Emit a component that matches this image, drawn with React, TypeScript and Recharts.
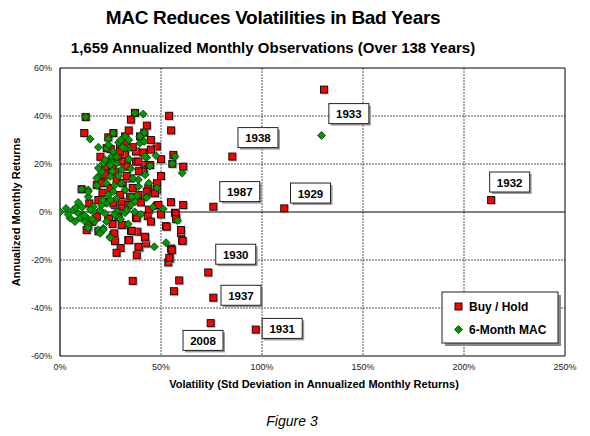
import React from 'react';
import { ScatterChart, Scatter, XAxis, YAxis, CartesianGrid, ReferenceLine } from 'recharts';

// Axis ticks (percent)
const xTicks = [0, 50, 100, 150, 200, 250];
const yTicks = [-60, -40, -20, 0, 20, 40, 60];

// Volatility (%), annualized return (%) per year — Buy / Hold
const buyHold: [number, number][] = [
  [130.7, 51], [85.3, 23.1], [75.9, 2.2], [111, 1.5], [213.4, 5], [73.4, -25.2], [59, -28.5],
  [56.4, -33], [75.9, -35.7], [74.6, -46.3], [96.9, -49], [36, -28.7], [53.6, -21], [54.5, -19.4],
  [55.3, -15.6], [38, -18], [39.3, -14.8], [42.6, -13.1], [42, -10.6], [33.8, -11.7], [26.4, -9.6],
  [27.2, -12.1], [60.5, -12], [59.9, -8.7], [12.7, 39.6], [37.1, 41.3], [35.1, 38.5], [54, 40.1],
  [55, 34], [12, 32.9], [26.4, 32.9], [23.9, 31.1], [32.2, 31.5], [41.7, 33.1], [39.6, 31.5],
  [23.1, 26.6], [25.1, 26.2], [29.7, 27.6], [32.7, 28.7], [47.9, 27.3], [37.6, 25.2], [41.2, 24.8],
  [29.7, 24.5], [56.1, 23.8], [61, 18.9], [55.6, 20.1], [37.6, 21], [33, 21.7], [28, 21.7],
  [41.7, 19.6], [41.6, 17.6], [22.3, 17.6], [18.2, 11.3], [10.7, 9.5], [43.7, 9.9], [47.9, 9.2],
  [34.7, 6.4], [29.7, 5], [27.2, 2.9], [47.9, 2.6], [54.9, 4.1], [61, 2.9], [56.9, -0.3],
  [57.4, -2], [23.9, -2.7], [37.6, -2.4], [43.4, -1.7], [31, -5.4], [14, -6.1], [26.9, -8.9],
  [35.1, -7.8], [38.3, -8.2], [42.1, -10.3], [52.5, -5.9], [55, -15.2], [60.7, -12], [13.2, -7.5],
  [14.5, 3.6], [18.2, -2], [24.3, -2.9], [28.9, -2], [30.5, -5.4], [31.3, 2.2], [30.5, 4.3],
  [26.4, 3.6], [19, 5], [22.3, 4.3], [29.7, 7.1], [28, 13.4], [22.3, 15.5], [27.2, 16.8],
  [33, 18.9], [22.3, 18.9], [30.5, 21], [28.9, 23.1], [32.2, 23.8], [29.7, 25.2], [38.8, 21],
  [44.6, 19.6], [41.2, 16.8], [42.9, 8.5], [38.8, 7.1], [47, 7.8], [33.8, 2.9], [48.7, 2.9],
  [57.3, -0.6], [57.5, -3], [38, -2.4], [52.8, -6.1], [59.9, -7.5], [35.5, -7.9], [34.2, -11.7],
  [38.8, -14.5], [55.3, -15.9], [54.1, -19.1], [20.6, 12], [25, 10], [35, 14], [31, 12],
  [36, 27], [34, 34], [45, 30], [45, 26], [43, 36], [50, 22], [50, 15], [48, 12], [24, 21],
  [20, 23], [26, 19], [36, 10], [33, 15], [40, 4], [44, 1], [26, -5], [16, -4], [30, -15],
  [28, -17], [45, -4], [50, -1], [19, -8], [21, 8], [39, 17],
];

// Volatility (%), annualized return (%) per year — 6-Month MAC
const sixMonthMac: [number, number][] = [
  [129.5, 31.9], [12.7, 39.6], [37.1, 41.3], [41.2, 40.8], [14.9, 30.4], [26.4, 32.9], [23.9, 30.5],
  [32.2, 31.5], [41.7, 33.1], [19, 27], [23.1, 26.6], [33.8, 26.6], [39.6, 28.7], [41.7, 29.4],
  [56.9, 23.1], [47.5, 23.5], [55.6, 20.1], [60.5, 16.2], [42.9, 22.7], [44.6, 19.2], [21.4, 20.3],
  [25.6, 21], [19, 14.8], [10.7, 9.5], [14, 9.2], [38.8, 10.6], [42.9, 6.4], [38, 6.7], [23.1, 3.6],
  [51.1, 1.3], [58.2, -3.6], [28.9, -2], [32.2, -0.3], [33.8, -5], [46.7, -14.5], [52.5, -12.8],
  [21.4, -6.8], [19.8, -8.2], [24.8, -10.3], [13.5, -2.6], [0, 0], [6.6, 0.8], [9.1, -0.6],
  [5, -2.6], [7.4, -4], [11.5, -1.3], [12.4, -4], [14, -5.4], [13.7, -6.6], [16.5, 0.1],
  [19.8, 0.8], [22.3, -0.6], [19, -7.5], [21.4, -7.5], [19.8, -8.9], [24.8, -10.7], [28, 0.1],
  [33, 0.8], [28, 5.7], [23.9, 7.1], [20.6, 2.9], [26.4, 8.5], [32.2, 9.2], [30.5, 12],
  [24.8, 14.8], [20.6, 16.8], [18.2, 14.1], [30.5, 17.6], [19, 18.3], [24.8, 19.6], [28, 20.3],
  [25.6, 23.1], [22.3, 21.7], [32.2, 26.6], [26.4, 25.2], [39.6, 31.5], [42.1, 23.1], [42.1, 15.5],
  [38.8, 13.4], [42.9, 6], [35.5, 6.4], [37.1, 4.3], [16.5, 2.2], [14, 6.4], [14, 8.5], [18.2, 11],
  [8, 2], [10, -2.5], [4, -1], [3, 1.5], [9, 4], [11, 2], [12, -1.5], [17, -4], [16, -3], [15, 1],
  [27, 11], [29, 15], [23, 12], [21, 5], [26, 17], [34, 22], [35, 18], [36, 14], [31, 27],
  [29, 29], [24, 28], [30, 30], [34, 30], [28, 23], [25, 5], [27, -1], [23, -4], [30, -3],
  [35, 3], [37, 0], [40, -1], [46, 2], [44, 12], [48, 10],
];

// Year call-outs, placed in data units (box centre)
const yearLabels: { year: string; x: number; y: number }[] = [
  { year: '1933', x: 143, y: 41 },
  { year: '1938', x: 98, y: 31 },
  { year: '1987', x: 89, y: 8.5 },
  { year: '1929', x: 124, y: 7.9 },
  { year: '1932', x: 222.6, y: 12.5 },
  { year: '1930', x: 87, y: -17.6 },
  { year: '1937', x: 89.6, y: -34.7 },
  { year: '2008', x: 70.8, y: -53.5 },
  { year: '1931', x: 110, y: -48.5 },
];

const FONT = '"Liberation Sans", Arial, sans-serif';

const toPoints = (arr: [number, number][]) => arr.map(([x, y]) => ({ x, y }));

const SquareMark = (props: any) => {
  const { cx, cy } = props;
  if (cx == null || cy == null) return null;
  return (
    <g>
      <rect x={cx - 3} y={cy - 3} width={8} height={8} fill="#8a9bb0" opacity={0.55} />
      <rect x={cx - 3.5} y={cy - 3.5} width={7} height={7} fill="#ff0000" stroke="#111" strokeWidth={1} />
    </g>
  );
};

const DiamondMark = (props: any) => {
  const { cx, cy } = props;
  if (cx == null || cy == null) return null;
  const r = 4;
  return (
    <polygon
      points={`${cx},${cy - r} ${cx + r},${cy} ${cx},${cy + r} ${cx - r},${cy}`}
      fill="#009900"
      stroke="#0c2e0c"
      strokeWidth={0.8}
    />
  );
};

const YearBox = (props: any) => {
  const { cx, cy, payload } = props;
  if (cx == null || cy == null) return null;
  const w = 40;
  const h = 20;
  return (
    <g>
      <rect x={cx - w / 2 + 2} y={cy - h / 2 + 2} width={w} height={h} fill="#9a9a9a" />
      <rect x={cx - w / 2} y={cy - h / 2} width={w} height={h} fill="#fff" stroke="#222" strokeWidth={1} />
      <text
        x={cx}
        y={cy + 4.5}
        textAnchor="middle"
        fontFamily={FONT}
        fontWeight="bold"
        fontSize={11.5}
        fill="#000"
      >
        {payload.year}
      </text>
    </g>
  );
};

export default function App() {
  return (
    <div style={{ position: 'absolute', left: 0, top: 0, width: 590, height: 436, background: '#fff' }}>
      <ScatterChart width={590} height={436} margin={{ top: 68, right: 25, bottom: 50, left: 0 }}>
        <CartesianGrid
          stroke="#555"
          strokeDasharray="2 1"
          horizontalValues={[-40, -20, 20, 40]}
          verticalValues={[50, 100, 150, 200]}
        />
        <XAxis
          type="number"
          dataKey="x"
          domain={[0, 250]}
          ticks={xTicks}
          tickFormatter={(v: number) => `${v}%`}
          tick={{ fontSize: 9, fill: '#222', fontFamily: FONT }}
          tickLine={false}
          tickSize={0}
          tickMargin={8}
          height={30}
          axisLine={{ stroke: '#000', strokeWidth: 1.2 }}
          allowDataOverflow
        />
        <YAxis
          type="number"
          dataKey="y"
          domain={[-60, 60]}
          ticks={yTicks}
          tickFormatter={(v: number) => `${v}%`}
          tick={{ fontSize: 9, fill: '#222', fontFamily: FONT }}
          tickLine={false}
          tickSize={0}
          tickMargin={8}
          width={60}
          axisLine={{ stroke: '#000', strokeWidth: 1.2 }}
          allowDataOverflow
        />
        <ReferenceLine y={0} stroke="#000" strokeWidth={1} />
        <ReferenceLine y={60} stroke="#000" strokeWidth={1} />
        <ReferenceLine x={250} stroke="#000" strokeWidth={1} />
        <Scatter name="Buy / Hold" data={toPoints(buyHold)} shape={SquareMark} isAnimationActive={false} />
        <Scatter name="6-Month MAC" data={toPoints(sixMonthMac)} shape={DiamondMark} isAnimationActive={false} />
        <Scatter name="years" data={yearLabels} shape={YearBox} isAnimationActive={false} legendType="none" />
      </ScatterChart>

      <svg
        width={590}
        height={436}
        style={{ position: 'absolute', left: 0, top: 0, pointerEvents: 'none' }}
        fontFamily={FONT}
      >
        <text x={273} y={24} textAnchor="middle" fontSize={19} fontWeight="bold" letterSpacing={-0.3} fill="#000">
          MAC Reduces Volatilities in Bad Years
        </text>
        <text x={273} y={53} textAnchor="middle" fontSize={15} fontWeight="bold" fill="#000">
          1,659 Annualized Monthly Observations (Over 138 Years)
        </text>
        <text
          transform="translate(20,212) rotate(-90)"
          textAnchor="middle"
          fontSize={11}
          fontWeight="bold"
          fill="#000"
        >
          Annualized Monthly Returns
        </text>
        <text x={314} y={388} textAnchor="middle" fontSize={11} fontWeight="bold" fill="#000">
          Volatility (Std Deviation in Annualized Monthly Returns)
        </text>
        <text x={292} y={426} textAnchor="middle" fontSize={14} fontStyle="italic" fill="#000">
          Figure 3
        </text>

        {/* legend */}
        <rect x={445} y={295} width={116} height={51} fill="#8a8a8a" />
        <rect x={442} y={292} width={116} height={51} fill="#fff" stroke="#222" strokeWidth={1} />
        <rect x={455} y={303} width={7} height={7} fill="#ff0000" stroke="#111" strokeWidth={1} />
        <text x={469} y={311} fontSize={12} fontWeight="bold" fill="#000">
          Buy / Hold
        </text>
        <polygon points="458.5,325.5 462.5,329.5 458.5,333.5 454.5,329.5" fill="#009900" stroke="#0c2e0c" strokeWidth={0.8} />
        <text x={469} y={334} fontSize={12} fontWeight="bold" fill="#000">
          6-Month MAC
        </text>
      </svg>
    </div>
  );
}
